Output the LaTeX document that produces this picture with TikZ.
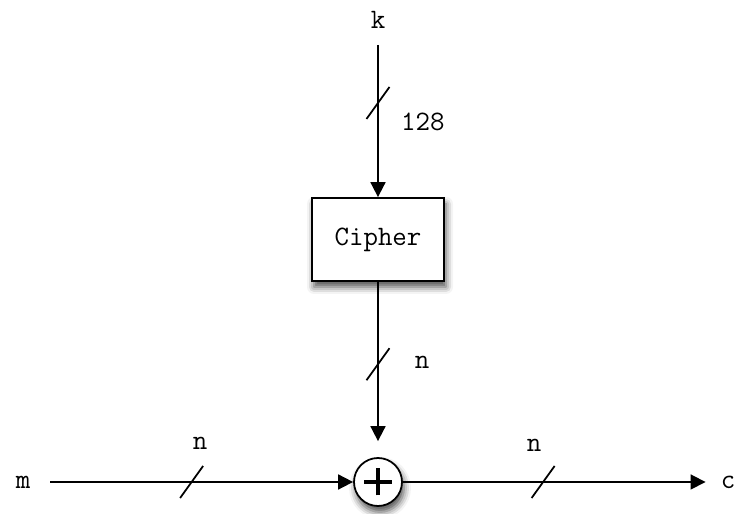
\documentclass[tikz,border=0pt]{standalone}
\usetikzlibrary{arrows.meta,shadows.blur}

\tikzset{
  wire/.style={line width=1pt,-{Triangle[length=0.3cm,width=0.3cm]}},
  lbl/.style={font=\fontsize{16}{19}\ttfamily},
  soft/.style={blur shadow={shadow xshift=0.04cm,shadow yshift=-0.12cm,
      shadow blur radius=0.14cm,shadow opacity=70}},
}

\begin{document}
\begin{tikzpicture}
    \useasboundingbox (0,0) rectangle (14.74,10.28);
    % inputs, outputs and the two blocks
    \node[lbl] (k) at (7.56,9.88) {k};
    \node[lbl] (m) at (0.46,0.64) {m};
    \node[lbl] (c) at (14.56,0.64) {c};
    \node[draw,line width=1pt,fill=white,soft,minimum width=2.64cm,
      minimum height=1.66cm,lbl] (cipher) at (7.56,5.49) {Cipher};
    \node[draw,circle,line width=1pt,fill=white,soft,minimum size=0.96cm,
      inner sep=0pt] (xor) at (7.56,0.64) {};
    \draw[line width=2.2pt] ([xshift=-0.28cm]xor.center) -- ([xshift=0.28cm]xor.center)
      ([yshift=-0.27cm]xor.center) -- ([yshift=0.27cm]xor.center);
    % connectors
    \draw[wire,shorten <=0.2cm] (k) -- coordinate[pos=0.42] (s1) (cipher);
    \draw[wire,shorten >=0.32cm] (cipher) -- coordinate[pos=0.47] (s2) (xor);
    \draw[wire,shorten <=0.28cm] (m) -- coordinate[pos=0.49] (s3) (xor);
    \draw[wire,shorten >=0.18cm] (xor) -- coordinate[pos=0.45] (s4) (c);
    % bus width marks
    \foreach \s in {s1,s2,s3,s4}{
        \draw[line width=1pt] ([shift={(-0.23,-0.32)}]\s) -- ([shift={(0.23,0.32)}]\s);
      }
    \node[lbl,anchor=west] (w1) at (7.9,7.84) {128};
    \node[lbl] (w2) at (8.44,3.04) {n};
    \node[lbl] (w3) at (4.0,1.42) {n};
    \node[lbl] (w4) at (10.68,1.38) {n};
  \end{tikzpicture}
\end{document}
